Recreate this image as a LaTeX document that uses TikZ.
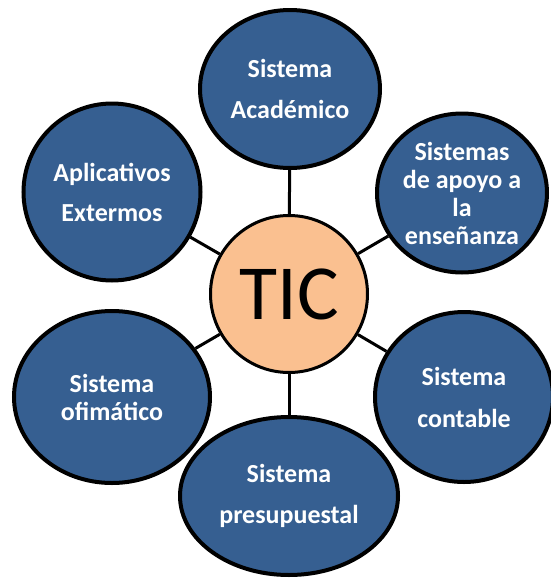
\documentclass[tikz,border=0pt]{standalone}
\usepackage{fontspec}
\setmainfont{Carlito}
\usepackage{xcolor}
\usepackage{tikz}
\usetikzlibrary{positioning, shapes.geometric}
\definecolor{sysblue}{RGB}{54,95,145}
\definecolor{ticorange}{RGB}{250,192,144}

\begin{document}
\begin{tikzpicture}[x=1pt, y=-1pt,
    sistema/.style={ellipse, draw=black, line width=4pt, fill=sysblue, text=white,
        font=\bfseries\fontsize{26}{28}\selectfont, align=center, inner sep=0pt},
    enlace/.style={line width=3pt}]
\useasboundingbox (0,0) rectangle (550,584);
\node[circle, draw, line width=3pt, fill=ticorange, minimum size=157pt, inner sep=0pt,
    font=\fontsize{78}{80}\selectfont] (tic) at (289,294) {TIC};
\node[sistema, minimum width=180pt, minimum height=158pt] (academico) at (290,89) {Sistema\\[13pt]Académico};
\node[sistema, minimum width=170pt, minimum height=159pt] (apoyo) at (462,193) {Sistemas\\de apoyo a\\la\\enseñanza};
\node[sistema, minimum width=178pt, minimum height=170pt] (contable) at (464,397) {Sistema\\[14pt]contable};
\node[sistema, minimum width=218pt, minimum height=158pt] (presupuestal) at (289,496) {Sistema\\[13pt]presupuestal};
\node[sistema, minimum width=196pt, minimum height=172pt] (ofimatico) at (112,397) {Sistema\\ofimático};
\node[sistema, minimum width=177pt, minimum height=177pt] (aplicativos) at (112,192) {Aplicativos\\[12pt]Extermos};
% enlaces al centro
\foreach \n in {academico, apoyo, contable, presupuestal, ofimatico, aplicativos}
    \draw[enlace] (tic) -- (\n);
\end{tikzpicture}
\end{document}
